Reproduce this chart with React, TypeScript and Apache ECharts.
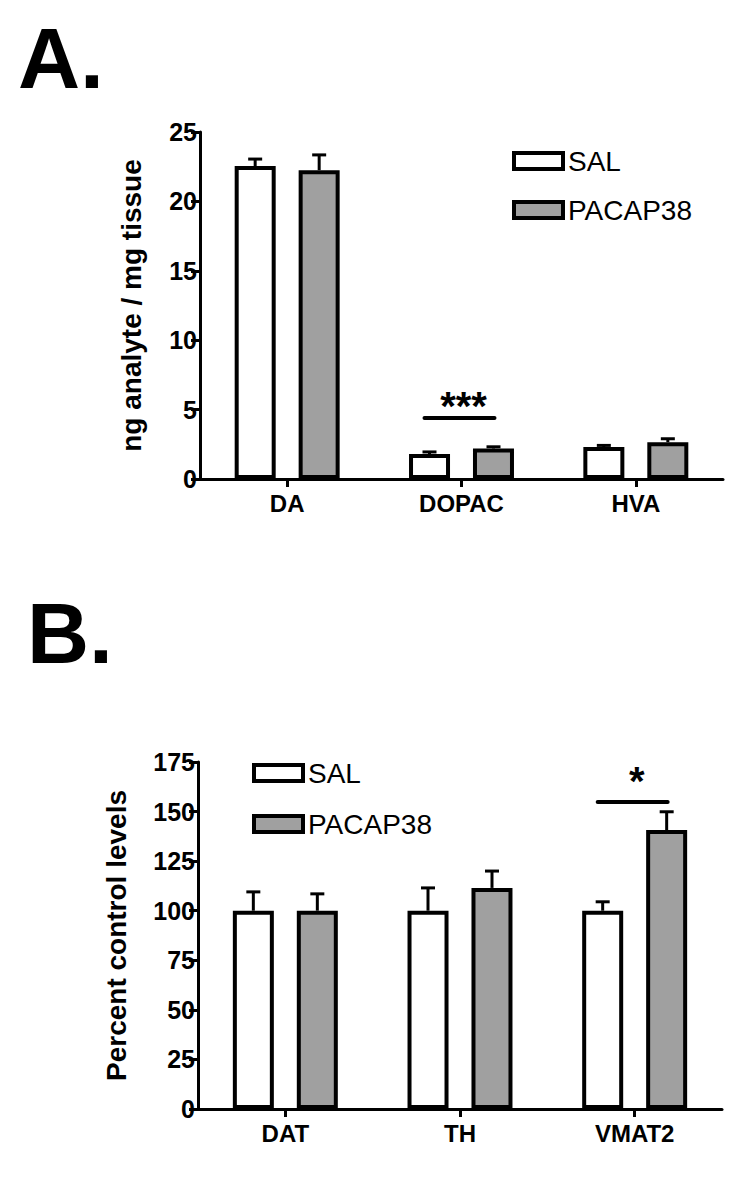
import React, { useEffect, useRef } from "react";
import * as echarts from "echarts";

const categoriesA = ["DA", "DOPAC", "HVA"];
const salA = [22.55, 1.8, 2.3];
const salAErr = [0.5, 0.15, 0.12];
const pacA = [22.25, 2.2, 2.65];
const pacAErr = [1.1, 0.12, 0.25];
const ticksA = { min: 0, max: 25, interval: 5 };
const sigA = [[1, 4.4, 5.26]];
const sigAText = "***";

const categoriesB = ["DAT", "TH", "VMAT2"];
const salB = [100, 100, 100];
const salBErr = [9.5, 11.5, 4.5];
const pacB = [100, 111.5, 140.7];
const pacBErr = [8.5, 8.5, 9.2];
const ticksB = { min: 0, max: 175, interval: 25 };
const sigB = [[2, 154.8, 165.4]];
const sigBText = "*";

const seriesNames = ["SAL", "PACAP38"];
const yTitleA = "ng analyte / mg tissue";
const yTitleB = "Percent control levels";

const FONT = "'Liberation Sans', Arial, sans-serif";
const GREY = "#a0a0a0";

function errRender(offset: number) {
  return (params: any, api: any) => {
    const x = api.value(0);
    const v = api.value(1);
    const e = api.value(2);
    const p0 = api.coord([x, v]);
    const p1 = api.coord([x, v + e]);
    const cx = p0[0] + offset;
    return {
      type: "group",
      children: [
        { type: "line", shape: { x1: cx, y1: p0[1], x2: cx, y2: p1[1] }, style: { stroke: "#000", lineWidth: 3 } },
        { type: "line", shape: { x1: cx - 7, y1: p1[1], x2: cx + 7, y2: p1[1] }, style: { stroke: "#000", lineWidth: 3 } },
      ],
    };
  };
}

function sigRender(text: string) {
  return (params: any, api: any) => {
    const c = api.value(0);
    const p = api.coord([c, api.value(1)]);
    const s = api.coord([c, api.value(2)]);
    return {
      type: "group",
      children: [
        {
          type: "line",
          shape: { x1: p[0] - 37, y1: p[1], x2: p[0] + 33, y2: p[1] },
          style: { stroke: "#000", lineWidth: 4, lineCap: "round" },
        },
        {
          type: "text",
          x: s[0] + 2,
          y: s[1],
          style: {
            text,
            fill: "#000",
            font: `bold 40px ${FONT}`,
            textAlign: "center",
            textVerticalAlign: "middle",
          },
        },
      ],
    };
  };
}

function yAxis(idx: number, t: any, name: string, gap: number) {
  return {
    type: "value",
    gridIndex: idx,
    min: t.min,
    max: t.max,
    interval: t.interval,
    name,
    nameLocation: "middle",
    nameGap: gap,
    nameTextStyle: { fontSize: 28, fontWeight: "bold", color: "#000", fontFamily: FONT },
    axisLine: { show: true, lineStyle: { color: "#000", width: 3 } },
    axisTick: { show: true, length: 9, lineStyle: { color: "#000", width: 3 } },
    axisLabel: { fontSize: 25, fontWeight: "bold", color: "#000", fontFamily: FONT, margin: 3 },
    splitLine: { show: false },
  };
}

function xAxis(idx: number, cats: string[]) {
  return {
    type: "category",
    gridIndex: idx,
    data: cats,
    axisLine: { show: true, lineStyle: { color: "#000", width: 3 } },
    axisTick: { show: true, alignWithLabel: true, length: 8, lineStyle: { color: "#000", width: 3 } },
    axisLabel: { fontSize: 24, fontWeight: "bold", color: "#000", fontFamily: FONT, margin: 12 },
    splitLine: { show: false },
  };
}

function bar(name: string, idx: number, data: number[], color: string) {
  return {
    type: "bar",
    name,
    xAxisIndex: idx,
    yAxisIndex: idx,
    data,
    barWidth: 41,
    barGap: "56%",
    itemStyle: { color, borderColor: "#000", borderWidth: 4 },
    z: 2,
  };
}

function err(idx: number, means: number[], errs: number[], offset: number) {
  return {
    type: "custom",
    xAxisIndex: idx,
    yAxisIndex: idx,
    data: means.map((m, i) => [i, m, errs[i]]),
    encode: { x: 0, y: 1 },
    renderItem: errRender(offset),
    z: 3,
  };
}

function sig(idx: number, data: number[][], text: string) {
  return {
    type: "custom",
    xAxisIndex: idx,
    yAxisIndex: idx,
    data,
    encode: { x: 0, y: 1 },
    renderItem: sigRender(text),
    z: 4,
  };
}

function legend(left: number, top: number, gap: number) {
  return {
    data: seriesNames,
    orient: "vertical",
    left,
    top,
    padding: 0,
    itemWidth: 49,
    itemHeight: 16,
    itemGap: gap,
    icon: "rect",
    selectedMode: false,
    itemStyle: { borderColor: "#000", borderWidth: 4 },
    textStyle: { fontSize: 28, color: "#000", fontFamily: FONT, lineHeight: 26 },
  };
}

export default function App() {
  const ref = useRef<HTMLDivElement>(null);
  useEffect(() => {
    document.body.style.margin = "0";
    const chart = echarts.init(ref.current!, null, { renderer: "svg" });
    chart.setOption({
      animation: false,
      backgroundColor: "#fff",
      title: [
        { text: "A.", left: 18, top: 15, padding: 0, textStyle: { fontSize: 86, fontWeight: "bold", color: "#000", fontFamily: FONT } },
        { text: "B.", left: 27, top: 590, padding: 0, textStyle: { fontSize: 86, fontWeight: "bold", color: "#000", fontFamily: FONT } },
      ],
      legend: [legend(512, 147, 21), legend(252, 759, 23)],
      grid: [
        { left: 200, right: 27, top: 132, height: 347 },
        { left: 198, right: 28, top: 762, height: 347 },
      ],
      xAxis: [xAxis(0, categoriesA), xAxis(1, categoriesB)],
      yAxis: [yAxis(0, ticksA, yTitleA, 55), yAxis(1, ticksB, yTitleB, 68)],
      series: [
        bar(seriesNames[0], 0, salA, "#fff"),
        bar(seriesNames[1], 0, pacA, GREY),
        err(0, salA, salAErr, -32),
        err(0, pacA, pacAErr, 32),
        sig(0, sigA, sigAText),
        bar(seriesNames[0], 1, salB, "#fff"),
        bar(seriesNames[1], 1, pacB, GREY),
        err(1, salB, salBErr, -32),
        err(1, pacB, pacBErr, 32),
        sig(1, sigB, sigBText),
      ],
    });
    return () => chart.dispose();
  }, []);
  return <div ref={ref} style={{ width: 750, height: 1177 }} />;
}
